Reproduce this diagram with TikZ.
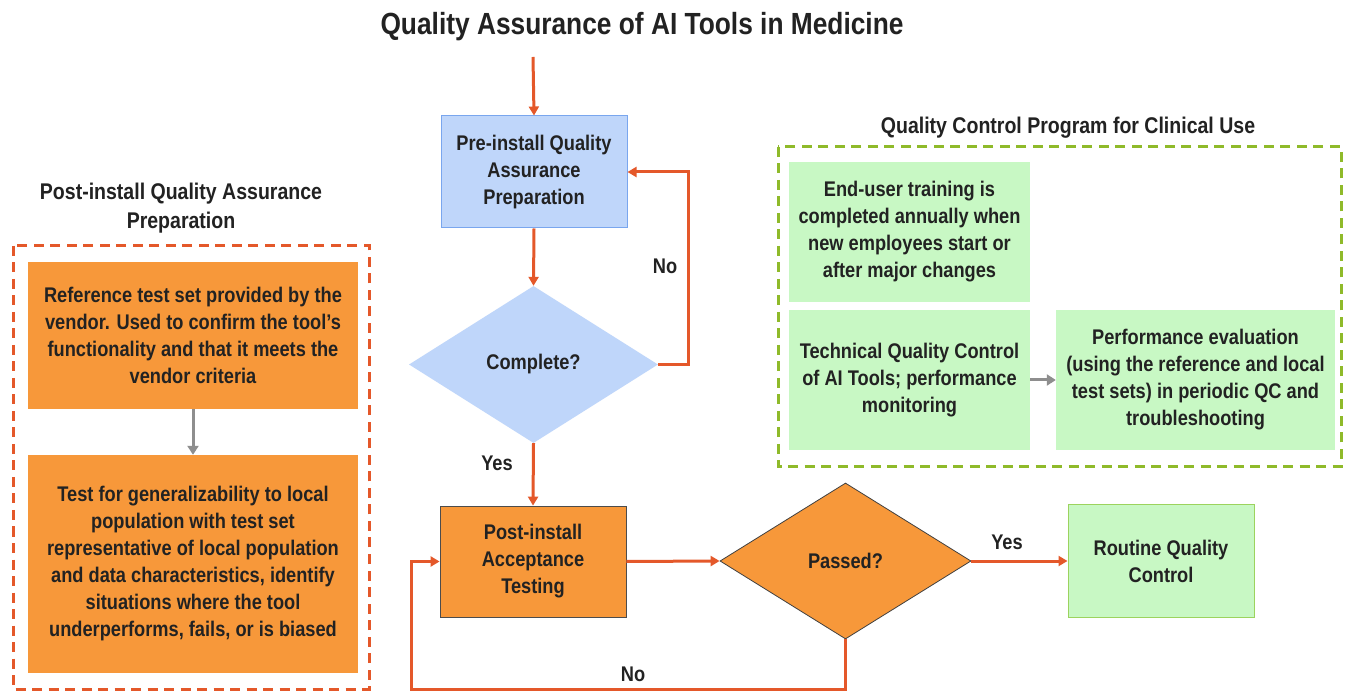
\documentclass[tikz,border=0pt]{standalone}
\usepackage{fontspec}
\setmainfont{Liberation Sans}[FakeStretch=0.86]
\usetikzlibrary{arrows.meta,shapes.geometric}
\definecolor{flow}{HTML}{E4582A}
\definecolor{orfill}{HTML}{F7983A}
\definecolor{blfill}{HTML}{BFD6FA}
\definecolor{blline}{HTML}{79A6EE}
\definecolor{grfill}{HTML}{C8F8C4}
\definecolor{grline}{HTML}{9CD35E}
\definecolor{grdash}{HTML}{8FBA2A}
\definecolor{txt}{HTML}{222222}
\definecolor{grayarrow}{HTML}{8E8E8E}
\tikzset{
  body/.style={font=\bfseries\fontsize{21.2}{27}\selectfont, text=txt, align=center, inner sep=0pt},
  bluebox/.style={body, rectangle, fill=blfill, draw=blline, line width=1pt},
  orbox/.style={body, rectangle, fill=orfill, draw=none},
  orboxb/.style={body, rectangle, fill=orfill, draw=black!70, line width=0.8pt},
  grbox/.style={body, rectangle, fill=grfill, draw=none},
  grboxb/.style={body, rectangle, fill=grfill, draw=grline, line width=1pt},
  bldiam/.style={body, diamond, fill=blfill, draw=none},
  ordiam/.style={body, diamond, fill=orfill, draw=black!75, line width=0.8pt},
  flowline/.style={draw=flow, line width=3pt, -{Triangle[length=9pt,width=10pt]}},
  grayline/.style={draw=grayarrow, line width=3pt, -{Triangle[length=9pt,width=11pt]}},
  lbl/.style={body},
  ttl/.style={font=\bfseries\fontsize{30.6}{34}\selectfont, text=txt, inner sep=0pt},
  paneltitle/.style={body, font=\bfseries\fontsize{22.7}{29}\selectfont},
  panelframe/.style={line width=3pt, dash pattern=on 10pt off 6.5pt}
}
\begin{document}
\begin{tikzpicture}[x=1pt,y=-1pt]
\useasboundingbox[fill=white] (0,0) rectangle (1353,692);

% title
\node[ttl] (title) at (642,27) {Quality Assurance of AI Tools in Medicine};

% main flow
\coordinate (start) at (533,57);
\node[bluebox, minimum width=186pt, minimum height=112pt] (pre) at (534,172)
  {Pre-install Quality\\Assurance\\Preparation};
\node[bldiam, minimum width=249pt, minimum height=157pt, shape aspect=1.59] (complete) at (533.5,364.5) {Complete?};
\node[orboxb, minimum width=186pt, minimum height=111pt] (post) at (533,561.5)
  {Post-install\\Acceptance\\Testing};
\node[ordiam, minimum width=251pt, minimum height=156pt, shape aspect=1.61] (passed) at (845.5,561) {Passed?};
\node[grboxb, minimum width=186pt, minimum height=112pt] (routine) at (1161,561)
  {Routine Quality\\Control};

\draw[flowline] (start) -- (pre.north);
\draw[flowline] (pre.south) -- (complete.north);
\coordinate (noright) at (688,172);
\draw[flowline] (complete.east) -| (noright) -- (pre.east);
\node[lbl] (no1) at (665,266) {No};
\draw[flowline] (complete.south) -- (post.north);
\node[lbl] (yes1) at (497,463) {Yes};
\draw[flowline] (post.east) -- (passed.west);
\draw[flowline] (passed.east) -- (routine.west);
\node[lbl] (yes2) at (1007,542) {Yes};
\coordinate (loopcorner) at (411,689);
\draw[flowline] (passed.south) |- (loopcorner) |- (post.west);
\node[lbl] (no2) at (633,674) {No};

% left panel
\node[paneltitle] (lefttitle) at (181,208.5) {Post-install Quality Assurance\\Preparation};
\draw[panelframe, draw=flow] (13,246) rectangle (369,689);
\node[orbox, minimum width=330pt, minimum height=147pt] (ref) at (193,335.5)
  {Reference test set provided by the\\vendor. Used to confirm the tool’s\\functionality and that it meets the\\vendor criteria};
\node[orbox, minimum width=330pt, minimum height=218pt] (gen) at (193,564)
  {Test for generalizability to local\\population with test set\\representative of local population\\and data characteristics, identify\\situations where the tool\\underperforms, fails, or is biased};
\draw[grayline] (ref.south) -- (gen.north);

% right panel
\node[paneltitle] (righttitle) at (1068,128) {Quality Control Program for Clinical Use};
\draw[panelframe, draw=grdash] (778,147) rectangle (1341,467);
\node[grbox, minimum width=241pt, minimum height=140pt] (train) at (909.5,232)
  {End-user training is\\completed annually when\\new employees start or\\after major changes};
\node[grbox, minimum width=241pt, minimum height=140pt] (tech) at (909.5,380)
  {Technical Quality Control\\of AI Tools; performance\\monitoring};
\node[grbox, minimum width=279pt, minimum height=140pt] (perf) at (1195.5,380)
  {Performance evaluation\\(using the reference and local\\test sets) in periodic QC and\\troubleshooting};
\draw[grayline] (tech.east) -- (perf.west);
\end{tikzpicture}
\end{document}
